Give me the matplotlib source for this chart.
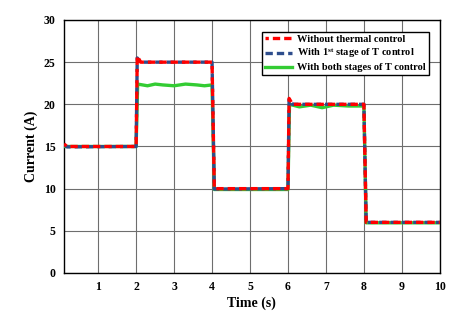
import matplotlib.pyplot as plt
import numpy as np

plt.rcParams['font.family'] = ['Liberation Serif', 'DejaVu Serif']
plt.rcParams['font.weight'] = 'bold'
plt.rcParams['mathtext.fontset'] = 'custom'
plt.rcParams['mathtext.rm'] = 'Liberation Serif:bold'
plt.rcParams['mathtext.it'] = 'Liberation Serif:bold'
plt.rcParams['mathtext.bf'] = 'Liberation Serif:bold'

# datos
t_sin = [0.1, 0.18, 2.0, 2.03, 2.12, 4.0, 4.06, 6.0, 6.03, 6.12, 8.0, 8.06, 10.0]
i_sin = [15.3, 15.0, 15.0, 25.7, 25.0, 25.0, 10.0, 10.0, 20.7, 20.0, 20.0, 6.0, 6.0]

t_uno = [0.1, 0.18, 2.0, 2.03, 2.12, 4.0, 4.06, 6.0, 6.03, 6.12, 8.0, 8.06, 10.0]
i_uno = [15.2, 14.95, 15.0, 25.5, 25.0, 25.0, 9.95, 10.0, 20.6, 20.0, 20.0, 6.0, 6.0]

t_ambos = [0.1, 2.0, 2.04, 2.3, 2.5, 2.7, 3.0, 3.3, 3.6, 3.8, 4.0, 4.06, 6.0, 6.04, 6.3, 6.6, 6.9, 7.2, 7.6, 8.0, 8.06, 10.0]
i_ambos = [15.0, 15.0, 22.4, 22.2, 22.4, 22.3, 22.2, 22.4, 22.3, 22.2, 22.3, 9.9, 9.9, 20.0, 19.7, 19.9, 19.6, 19.9, 19.8, 19.8, 5.95, 5.95]

etiquetas = ['Without thermal control',
             r'With 1$^{\mathrm{st}}$ stage of T control',
             'With both stages of T control']

fig = plt.figure(figsize=(4.62, 3.2), dpi=100)
ax = fig.add_axes([0.1385, 0.147, 0.8135, 0.7905])

ax.plot(t_ambos, i_ambos, color='#33cc33', lw=2.4, label=etiquetas[2], zorder=3)
ax.plot(t_uno, i_uno, color='#2e4d8c', lw=2.4, ls=(0, (2.2, 1.2)), label=etiquetas[1], zorder=4)
ax.plot(t_sin, i_sin, color='#ff0000', lw=2.4, ls=(1.2, (2.2, 1.2)), label=etiquetas[0], zorder=5)

ax.set_xlim(0.1, 10)
ax.set_ylim(0, 30)
ax.set_xticks(range(1, 11))
ax.set_yticks(range(0, 31, 5))
ax.grid(True, color='#6e6e6e', lw=0.8)
ax.tick_params(length=0, labelsize=8.5, pad=6)
for s in ax.spines.values():
    s.set_color('black')
    s.set_linewidth(1.0)

ax.set_xlabel('Time (s)', fontsize=10, fontweight='bold', labelpad=2)
ax.set_ylabel('Current (A)', fontsize=10, fontweight='bold', labelpad=4)

h, l = ax.get_legend_handles_labels()
leg = ax.legend(h[::-1], l[::-1], loc='upper right', bbox_to_anchor=(0.985, 0.975),
                fontsize=7.5, frameon=True, fancybox=False, edgecolor='black',
                framealpha=1, borderpad=0.3, labelspacing=0.25, handlelength=2.6,
                handletextpad=0.5)
leg.get_frame().set_linewidth(1.0)

fig.savefig('out.png', dpi=100)
